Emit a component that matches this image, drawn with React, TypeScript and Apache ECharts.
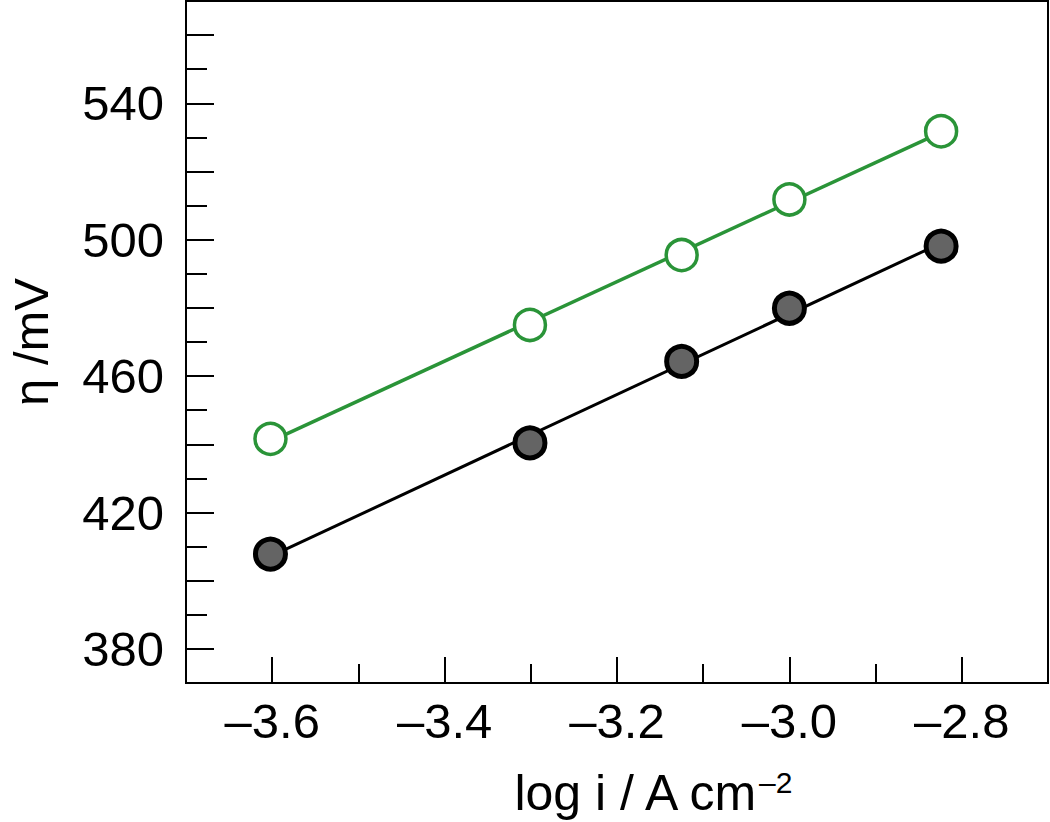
import React, { useEffect, useRef } from "react";
import * as echarts from "echarts";

const logI = [-3.602, -3.301, -3.125, -3.0, -2.824];
const etaBlack = [407.8, 440.4, 464.3, 479.9, 498.1];
const etaGreen = [441.6, 475.0, 495.5, 511.8, 531.8];

const xMajorTicks = [-3.6, -3.4, -3.2, -3.0, -2.8];
const xMinorTicks = [-3.5, -3.3, -3.1, -2.9];
const yLabelValues = [380, 420, 460, 500, 540];
const yMajorTicks = [380, 400, 420, 440, 460, 480, 500, 520, 540, 560];
const yMinorTicks = [390, 410, 430, 450, 470, 490, 510, 530, 550];

function fitLine(xs: number[], ys: number[]) {
  const n = xs.length;
  const mx = xs.reduce((a, b) => a + b, 0) / n;
  const my = ys.reduce((a, b) => a + b, 0) / n;
  let sxy = 0, sxx = 0;
  for (let i = 0; i < n; i++) {
    sxy += (xs[i] - mx) * (ys[i] - my);
    sxx += (xs[i] - mx) * (xs[i] - mx);
  }
  const k = sxy / sxx;
  const b = my - k * mx;
  const x0 = Math.min(...xs);
  const x1 = Math.max(...xs);
  return [[x0, k * x0 + b], [x1, k * x1 + b]];
}

const GREEN = "#2a9438";
const FONT = "Liberation Sans";

export default function App() {
  const ref = useRef<HTMLDivElement>(null);
  useEffect(() => {
    if (!ref.current) return;
    const chart = echarts.init(ref.current, undefined, { renderer: "svg" });
    const fmtX = (v: number) => (v < 0 ? "\u2013" : "") + Math.abs(v).toFixed(1);
    chart.setOption({
      animation: false,
      backgroundColor: "#fff",
      grid: {
        left: 186,
        top: 1,
        right: 2,
        bottom: 139,
        containLabel: false,
        outerBoundsMode: "none",
        show: true,
        borderColor: "#000",
        borderWidth: 2,
      },
      xAxis: [
        {
          type: "value",
          position: "bottom",
          min: -3.7,
          max: -2.7,
          axisLine: { show: true, lineStyle: { color: "#000", width: 2 } },
          axisTick: {
            show: true,
            inside: true,
            length: 26,
            lineStyle: { color: "#000", width: 2 },
            customValues: xMajorTicks,
          },
          axisLabel: {
            customValues: xMajorTicks,
            formatter: fmtX,
            color: "#000",
            fontFamily: FONT,
            fontSize: 49,
            margin: 13,
          },
          splitLine: { show: false },
          name: "log i / A cm{sup|\u20132}",
          nameLocation: "middle",
          nameGap: 84,
          nameTextStyle: {
            color: "#000",
            fontFamily: FONT,
            fontSize: 50,
            padding: [0, 0, 0, 70],
            rich: {
              sup: {
                fontFamily: FONT,
                fontSize: 30,
                color: "#000",
                verticalAlign: "top",
                padding: [0, 0, 22, 0],
              },
            },
          },
        },
        {
          type: "value",
          position: "bottom",
          min: -3.7,
          max: -2.7,
          axisLine: { show: false },
          axisTick: {
            show: true,
            inside: true,
            length: 19,
            lineStyle: { color: "#000", width: 2 },
            customValues: xMinorTicks,
          },
          axisLabel: { show: false },
          splitLine: { show: false },
        },
      ],
      yAxis: [
        {
          type: "value",
          position: "left",
          min: 370,
          max: 570,
          axisLine: { show: true, lineStyle: { color: "#000", width: 2 } },
          axisTick: {
            show: true,
            inside: true,
            length: 28,
            lineStyle: { color: "#000", width: 2 },
            customValues: yMajorTicks,
          },
          axisLabel: {
            customValues: yLabelValues,
            color: "#000",
            fontFamily: FONT,
            fontSize: 49,
            margin: 22,
          },
          splitLine: { show: false },
          name: "\u03b7 /mV",
          nameLocation: "middle",
          nameGap: 132,
          nameTextStyle: { color: "#000", fontFamily: FONT, fontSize: 49, lineHeight: 46 },
        },
        {
          type: "value",
          position: "left",
          min: 370,
          max: 570,
          axisLine: { show: false },
          axisTick: {
            show: true,
            inside: true,
            length: 21,
            lineStyle: { color: "#000", width: 2 },
            customValues: yMinorTicks,
          },
          axisLabel: { show: false },
          splitLine: { show: false },
        },
      ],
      series: [
        {
          type: "line",
          data: fitLine(logI, etaBlack),
          symbol: "none",
          lineStyle: { color: "#000", width: 3 },
          z: 2,
        },
        {
          type: "line",
          data: fitLine(logI, etaGreen),
          symbol: "none",
          lineStyle: { color: GREEN, width: 3.5 },
          z: 2,
        },
        {
          type: "scatter",
          data: logI.map((x, i) => [x, etaBlack[i]]),
          symbol: "circle",
          symbolSize: 30,
          itemStyle: { color: "#646464", borderColor: "#000", borderWidth: 5, opacity: 1 },
          z: 3,
        },
        {
          type: "scatter",
          data: logI.map((x, i) => [x, etaGreen[i]]),
          symbol: "circle",
          symbolSize: 31,
          itemStyle: { color: "#fff", borderColor: GREEN, borderWidth: 3.5, opacity: 1 },
          z: 3,
        },
      ],
    });
    return () => chart.dispose();
  }, []);
  return (
    <div
      ref={ref}
      style={{ position: "fixed", left: 0, top: 0, width: 1050, height: 822 }}
    />
  );
}
